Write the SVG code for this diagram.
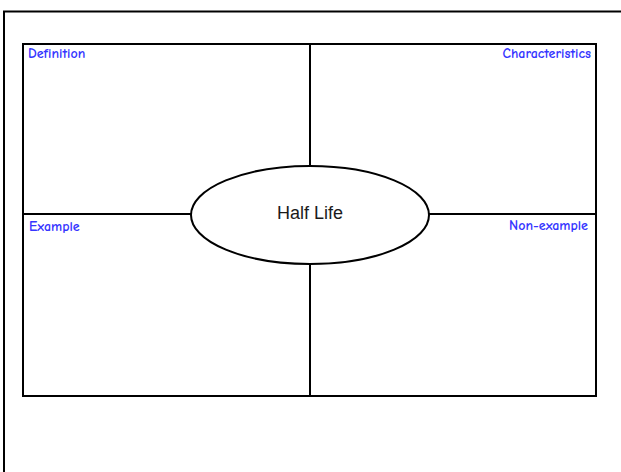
<svg xmlns="http://www.w3.org/2000/svg" width="621" height="472" viewBox="0 0 621 472">
<style>
.ln{stroke:#000;stroke-width:2;fill:none}
.lbl{font-family:"Comic Neue","DejaVu Sans","Liberation Sans",sans-serif;font-size:14px;font-weight:bold;fill:#3535ff}
.ctr{font-family:"Liberation Sans",Arial,sans-serif;font-size:18px;fill:#1a1a1a}
</style>
<rect width="621" height="472" fill="#fff"/>
<g id="frame">
<path class="ln" d="M4 480 V11.5 H630"/>
<rect class="ln" x="23" y="44" width="573" height="352"/>
</g>
<g id="connectors">
<line class="ln" x1="310" y1="44" x2="310" y2="166"/>
<line class="ln" x1="310" y1="264" x2="310" y2="396"/>
<line class="ln" x1="23" y1="214" x2="191" y2="214"/>
<line class="ln" x1="429" y1="214" x2="596" y2="214"/>
</g>
<g id="center">
<ellipse class="ln" cx="310" cy="215" rx="119" ry="49" fill="#fff"/>
<text class="ctr" x="310" y="219" text-anchor="middle">Half Life</text>
</g>
<g id="definition"><text class="lbl" x="28" y="58">Definition</text></g>
<g id="characteristics"><text class="lbl" x="591" y="58" text-anchor="end">Characteristics</text></g>
<g id="example"><text class="lbl" x="29" y="231">Example</text></g>
<g id="nonexample"><text class="lbl" x="588" y="230" text-anchor="end">Non-example</text></g>
</svg>
